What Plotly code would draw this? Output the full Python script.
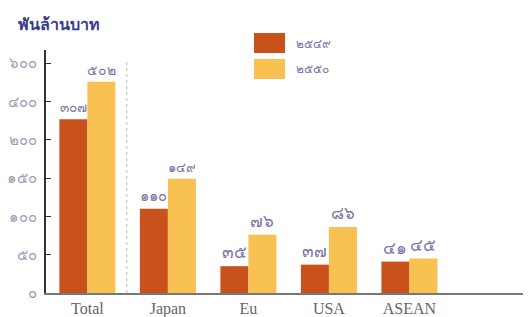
import plotly.graph_objects as go

# ---- data ----
categories = ["Total", "Japan", "Eu", "USA", "ASEAN"]
years = [2549, 2550]
values_2549 = [307, 110, 35, 37, 41]
values_2550 = [502, 149, 76, 86, 45]
tick_values = [0, 50, 100, 150, 200, 400, 600]
unit_title = "พันล้านบาท"

colors = ["#C9521C", "#F9C052"]
THAI = str.maketrans("0123456789", "๐๑๒๓๔๕๖๗๘๙")


def thai(n):
    return str(n).translate(THAI)


def broken_scale(v):
    # axis is linear 0-200 in steps of 50, then 200-600 in steps of 200
    return v / 50.0 if v <= 200 else 4 + (v - 200) / 200.0


# page geometry (browser body has an 8px margin)
W, H = 531, 317
OFF = 8
PL, PR, PT, PB = 46, 531, 50, 293  # plot area in page pixels


def px(x):
    return (x - PL) / (PR - PL)


def py(y):
    return (PB - y) / (PB - PT)


fig = go.Figure()
for yr, vals, col in zip(years, [values_2549, values_2550], colors):
    fig.add_trace(go.Bar(
        x=categories,
        y=[broken_scale(v) for v in vals],
        name=thai(yr),
        marker=dict(color=col, line=dict(width=0)),
        text=[thai(v) for v in vals],
        textposition="outside",
        textfont=dict(color="#7c76a6", size=17),
        cliponaxis=False,
        showlegend=False,
    ))

# legend drawn as swatches
for i, (yr, col) in enumerate(zip(years, colors)):
    y0 = 33 + i * 26
    fig.add_shape(type="rect", xref="paper", yref="paper",
                  x0=px(254), x1=px(285), y0=py(y0 + 20), y1=py(y0),
                  fillcolor=col, line=dict(width=0))
    fig.add_annotation(xref="paper", yref="paper", x=px(294), y=py(y0 + 10),
                       text=thai(yr), showarrow=False, xanchor="left",
                       yanchor="middle", font=dict(size=12, color="#7c76a6"))

# dotted separator after Total
fig.add_shape(type="line", xref="x", yref="paper", x0=0.49, x1=0.49,
              y0=0, y1=py(60), line=dict(color="#bbbbbb", width=1, dash="dot"))

fig.add_annotation(xref="paper", yref="paper", x=px(16), y=py(24),
                   text="<b>" + unit_title + "</b>", showarrow=False, xanchor="left",
                   yanchor="middle", font=dict(size=16, color="#363c8c"))

fig.update_layout(
    width=W, height=H,
    margin=dict(l=PL - OFF, r=W - PR + OFF, t=PT - OFF, b=H - (PB - OFF)),
    plot_bgcolor="white", paper_bgcolor="white",
    barmode="group", bargap=0.304, bargroupgap=0,
    font=dict(family="Noto Sans, DejaVu Sans, sans-serif"),
)
fig.update_xaxes(
    range=[-0.514, 5.51], showgrid=False, showline=True, automargin=False,
    linecolor="#777777", linewidth=1.5, ticks="",
    tickfont=dict(family="Liberation Serif, serif", size=16, color="#666666"),
)
fig.update_yaxes(
    range=[0, 6.34], showgrid=False, zeroline=False, showline=True,
    automargin=False,
    linecolor="#333333", linewidth=1.5,
    tickvals=[broken_scale(t) for t in tick_values],
    ticktext=[thai(t) for t in tick_values],
    ticks="inside", ticklen=5, tickcolor="#333333",
    ticklabelstandoff=4,
    tickfont=dict(size=15, color="#a09cb6"),
)

fig.write_html("out.html")
